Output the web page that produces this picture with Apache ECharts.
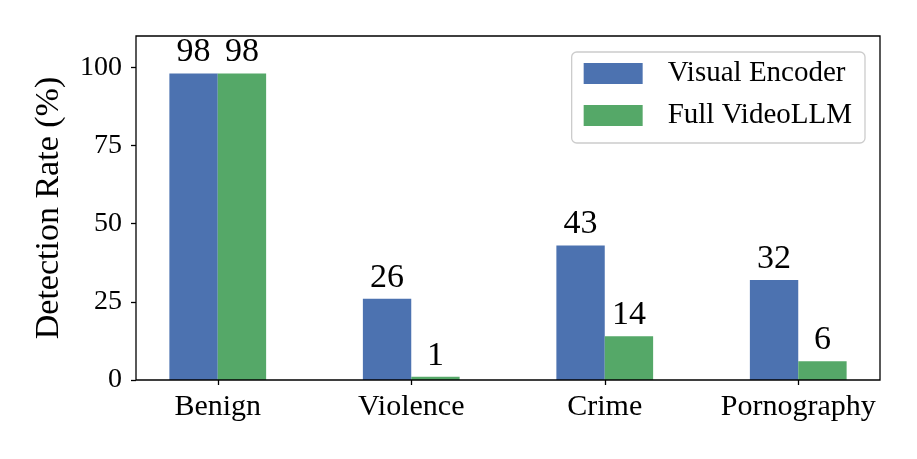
<!DOCTYPE html>
<html>
<head>
<meta charset="utf-8">
<script src="https://cdn.jsdelivr.net/npm/echarts@6/dist/echarts.min.js"></script>
<style>html,body{margin:0;padding:0;background:#fff;}#c{width:917px;height:459px;}</style>
</head>
<body>
<div id="c"></div>
<script>
const categories = ['Benign', 'Violence', 'Crime', 'Pornography'];
const visualEncoderValues = [98, 26, 43, 32];
const fullVideoLLMValues = [98, 1, 14, 6];
const yTicks = [0, 25, 50, 75, 100];

const FONT = 'Liberation Serif';
const chart = echarts.init(document.getElementById('c'));
const labelCfg = {show: true, position: 'top', distance: 4, color: '#000', fontFamily: FONT, fontSize: 34};
chart.setOption({
  animation: false,
  textStyle: {fontFamily: FONT},
  grid: [
    {left: 136, right: 37, top: 36, bottom: 79, show: true, borderColor: '#000', borderWidth: 1.3, backgroundColor: 'transparent', z: 5},
    {left: 121, right: 22, top: 36, bottom: 79}
  ],
  legend: {
    orient: 'vertical', right: 52, top: 52,
    itemWidth: 59, itemHeight: 21, itemGap: 13,
    padding: [7, 13, 13, 12],
    borderColor: '#cccccc', borderWidth: 1.3, borderRadius: 5,
    backgroundColor: '#fff',
    icon: 'rect',
    textStyle: {fontFamily: FONT, fontSize: 29, color: '#000', padding: [0, 0, 0, 20]},
    data: ['Visual Encoder', 'Full VideoLLM']
  },
  xAxis: [
    {gridIndex: 0, type: 'category', data: categories, show: false},
    {gridIndex: 1, type: 'category', data: categories,
      axisLine: {show: false},
      axisTick: {show: true, alignWithLabel: true, length: 5, interval: 0, lineStyle: {color: '#000', width: 1.3}},
      axisLabel: {color: '#000', fontFamily: FONT, fontSize: 30, margin: 12, interval: 0, hideOverlap: false}}
  ],
  yAxis: [
    {gridIndex: 0, type: 'value', min: 0, max: 110,
      name: 'Detection Rate (%)', nameLocation: 'middle', nameGap: 70,
      nameTextStyle: {color: '#000', fontFamily: FONT, fontSize: 34},
      axisLine: {show: false}, splitLine: {show: false},
      axisTick: {show: true, length: 5, customValues: yTicks, lineStyle: {color: '#000', width: 1.3}},
      axisLabel: {color: '#000', fontFamily: FONT, fontSize: 28, margin: 14, customValues: yTicks}},
    {gridIndex: 1, type: 'value', min: 0, max: 110, show: false}
  ],
  series: [
    {name: 'Visual Encoder', type: 'bar', xAxisIndex: 1, yAxisIndex: 1, data: visualEncoderValues,
      barWidth: '25%', barGap: '0%', itemStyle: {color: '#4c72b0'}, label: labelCfg},
    {name: 'Full VideoLLM', type: 'bar', xAxisIndex: 1, yAxisIndex: 1, data: fullVideoLLMValues,
      barWidth: '25%', barGap: '0%', itemStyle: {color: '#55a868'}, label: labelCfg}
  ]
});
</script>
</body>
</html>
